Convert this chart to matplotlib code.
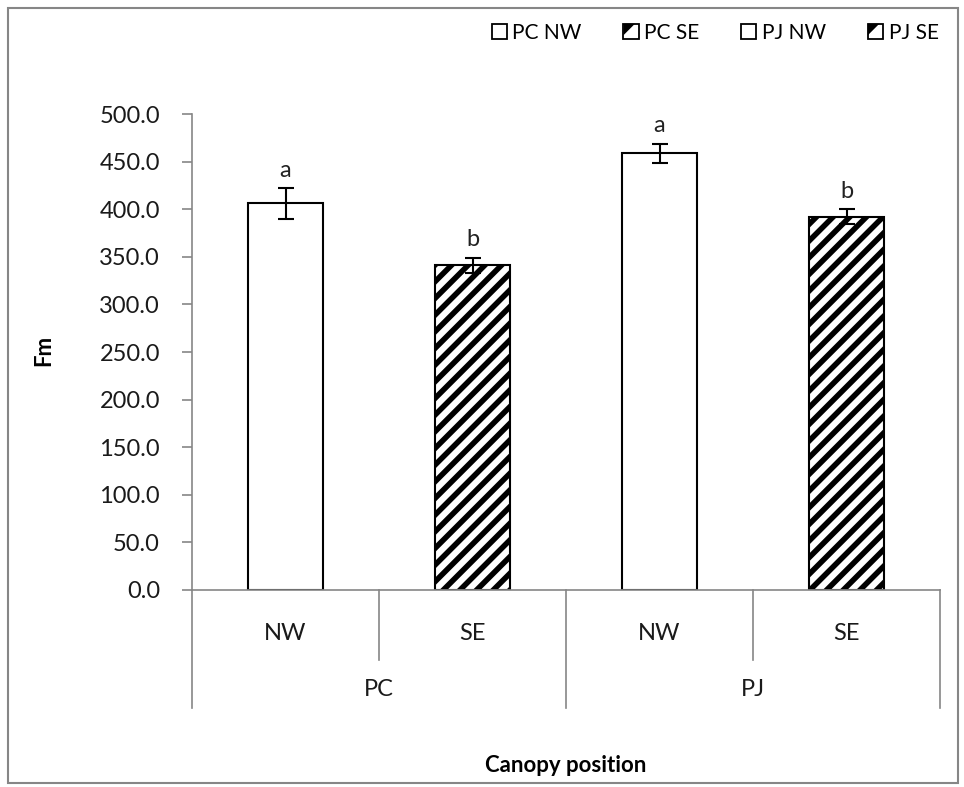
import matplotlib
matplotlib.use("Agg")
import matplotlib.pyplot as plt
from matplotlib.patches import Rectangle, Patch, Polygon
from matplotlib.lines import Line2D
from matplotlib.legend_handler import HandlerBase

plt.rcParams['font.family'] = ['Lato', 'DejaVu Sans']
plt.rcParams['hatch.linewidth'] = 4.0

species = ["PC", "PC", "PJ", "PJ"]
positions = ["NW", "SE", "NW", "SE"]
series_names = ["PC NW", "PC SE", "PJ NW", "PJ SE"]
values = [406.0, 341.0, 459.0, 392.0]
errors = [16.0, 8.0, 10.0, 8.0]
letters = ["a", "b", "a", "b"]
hatches = ["", "//", "", "//"]
yticks = [0, 50, 100, 150, 200, 250, 300, 350, 400, 450, 500]

gray = "#868686"
fig = plt.figure(figsize=(9.64, 7.87), dpi=100)
ax = fig.add_axes([192/964, 1-590/787, (940-192)/964, (590-114)/787])

x = [0.5, 1.5, 2.5, 3.5]
for i in range(4):
    ax.bar(x[i], values[i], width=0.4, color="white", edgecolor="black",
           linewidth=1.5, hatch=hatches[i], label=series_names[i], zorder=2)
    ax.errorbar(x[i], values[i], yerr=errors[i], fmt="none", ecolor="black",
                elinewidth=1.5, capsize=5.5, capthick=1.5, zorder=3)
    ax.text(x[i], values[i] + errors[i] + 8, letters[i], ha="center", va="bottom",
            fontsize=17, color="#222222")

ax.set_xlim(0, 4)
ax.set_ylim(0, 500)
ax.set_yticks(yticks)
ax.set_yticklabels([f"{v:.1f}" for v in yticks], fontsize=17, color="#1a1a1a")
ax.tick_params(axis="y", direction="out", length=7, color=gray, width=1.2, pad=16)
ax.set_xticks([])
for s in ["top", "right"]:
    ax.spines[s].set_visible(False)
ax.spines["left"].set_color(gray)
ax.spines["bottom"].set_color(gray)
ax.spines["left"].set_linewidth(1.2)
ax.spines["bottom"].set_linewidth(1.2)

# hierarchical category axis
trans = ax.get_xaxis_transform()
px = 1/476  # axes fraction per pixel vertically
inner_end = -(660-590)*px
outer_end = -(708-590)*px
for xv in [1, 3]:
    ax.add_line(Line2D([xv, xv], [0, inner_end], transform=trans, color=gray, lw=1.2, clip_on=False))
for xv in [0, 2, 4]:
    ax.add_line(Line2D([xv, xv], [0, outer_end], transform=trans, color=gray, lw=1.2, clip_on=False))
for i in range(4):
    ax.text(x[i], -(633-590)*px, positions[i], transform=trans, ha="center", va="center",
            fontsize=17, color="#1a1a1a")
for xv, lab in [(1, "PC"), (3, "PJ")]:
    ax.text(xv, -(690-590)*px, lab, transform=trans, ha="center", va="center",
            fontsize=17, color="#1a1a1a")

fig.text(44/964, 1-350/787, "Fm", rotation=90, ha="center", va="center", fontsize=16, fontweight="bold")
fig.text(566/964, 1-766/787, "Canopy position", ha="center", va="center", fontsize=16, fontweight="bold")


class SquareHandler(HandlerBase):
    def create_artists(self, legend, orig_handle, xdescent, ydescent, width, height, fontsize, trans):
        s = min(width, height)
        x0 = xdescent * -1 + (width - s) / 2
        y0 = -ydescent + (height - s) / 2
        arts = []
        if orig_handle.get_hatch():
            tri = Polygon([[x0, y0 + s], [x0, y0 + 0.25 * s], [x0 + 0.75 * s, y0 + s]],
                          closed=True, facecolor="black", edgecolor="none", transform=trans)
            tri2 = Polygon([[x0 + s, y0], [x0 + s, y0 + 0.1 * s], [x0 + 0.9 * s, y0]],
                           closed=True, facecolor="black", edgecolor="none", transform=trans)
            arts += [tri, tri2]
        sq = Rectangle((x0, y0), s, s, facecolor="none", edgecolor="black", linewidth=1.3, transform=trans)
        return arts + [sq]


handles = [Patch(facecolor="white", edgecolor="black", hatch=h) for h in hatches]
fig.legend(handles, series_names, loc="upper right", bbox_to_anchor=(0.993, 0.995), ncol=4,
           frameon=False, fontsize=15, handlelength=0.75, handleheight=0.75,
           handletextpad=0.25, columnspacing=2.0,
           handler_map={Patch: SquareHandler()})

fig.patches.append(Rectangle((8/964, 4/787), (958-8)/964, (779-4)/787, transform=fig.transFigure,
                             fill=False, edgecolor=gray, linewidth=1.5))

fig.savefig("out.png", dpi=100)
